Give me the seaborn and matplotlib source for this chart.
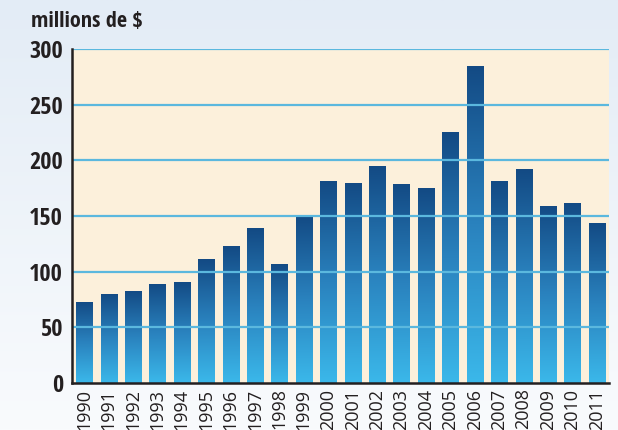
import numpy as np
import matplotlib
matplotlib.use("Agg")
import matplotlib.pyplot as plt
from matplotlib.colors import LinearSegmentedColormap
import seaborn as sns

# Données (millions de $)
years = ["1990", "1991", "1992", "1993", "1994", "1995", "1996", "1997", "1998", "1999", "2000",
         "2001", "2002", "2003", "2004", "2005", "2006", "2007", "2008", "2009", "2010", "2011"]
values = [73, 80, 83, 89, 91, 111, 123, 139, 107, 150, 181,
          180, 195, 179, 175, 225, 285, 181, 192, 159, 162, 144]
yticks = [0, 50, 100, 150, 200, 250, 300]

ink = "#231F20"
bold_font = ["Open Sans Condensed", "DejaVu Sans"]
sns.set_style("white")
plt.rcParams["font.family"] = ["Open Sans", "DejaVu Sans"]

fig = plt.figure(figsize=(6.18, 4.30), dpi=100)

# fond dégradé bleu clair -> blanc
bg = fig.add_axes([0, 0, 1, 1], zorder=-10)
bg_cmap = LinearSegmentedColormap.from_list("bg", ["#F9FBFD", "#E3ECF6"])
bg.imshow(np.linspace(0, 1, 256).reshape(-1, 1), aspect="auto", cmap=bg_cmap,
          origin="lower", extent=[0, 1, 0, 1])
bg.axis("off")

ax = fig.add_axes([0.1165, 0.1093, 0.869, 0.777])
ax.set_facecolor("#FCF0DB")

sns.barplot(x=years, y=values, ax=ax, width=0.66, color="#2A7AB8", saturation=1)

# dégradé dans chaque barre
bar_cmap = LinearSegmentedColormap.from_list("bar", ["#3BB8EA", "#2A82BE", "#134A84"])
grad = np.linspace(0, 1, 256).reshape(-1, 1)
for p in list(ax.patches):
    x0, y0 = p.get_x(), p.get_y()
    w, h = p.get_width(), p.get_height()
    p.set_facecolor("none")
    p.set_edgecolor("none")
    im = ax.imshow(grad, extent=[x0, x0 + w, y0, y0 + h], aspect="auto",
                   cmap=bar_cmap, origin="lower", zorder=2)
    im.set_clip_path(p)

# lignes de grille au-dessus des barres
for v in yticks[1:]:
    ax.axhline(v, color="#5BB8DE", lw=1.6, zorder=3)

ax.set_xlim(-0.5, len(years) - 0.5)
ax.set_ylim(0, 300)
ax.set_yticks(yticks)
ax.set_xlabel("")
ax.set_ylabel("")

for s in ["top", "right"]:
    ax.spines[s].set_visible(False)
for s in ["left", "bottom"]:
    ax.spines[s].set_color(ink)
    ax.spines[s].set_linewidth(1.8)
    ax.spines[s].set_zorder(5)

ax.tick_params(axis="y", length=0, pad=6.5, labelsize=17.5, labelcolor=ink)
for t in ax.get_yticklabels():
    t.set_family(bold_font)
    t.set_fontweight("bold")

ax.tick_params(axis="x", which="major", length=0, pad=4, labelsize=13,
               labelrotation=90, labelcolor=ink)
ax.set_xticks(np.arange(0.5, len(years), 1), minor=True)
ax.tick_params(axis="x", which="minor", direction="in", length=5, width=1.5, color=ink)

fig.text(31 / 618, 1 - 27 / 430, "millions de $", fontsize=16, fontweight="bold",
         family=bold_font, color=ink, va="baseline")

fig.savefig("out.png", dpi=100)
